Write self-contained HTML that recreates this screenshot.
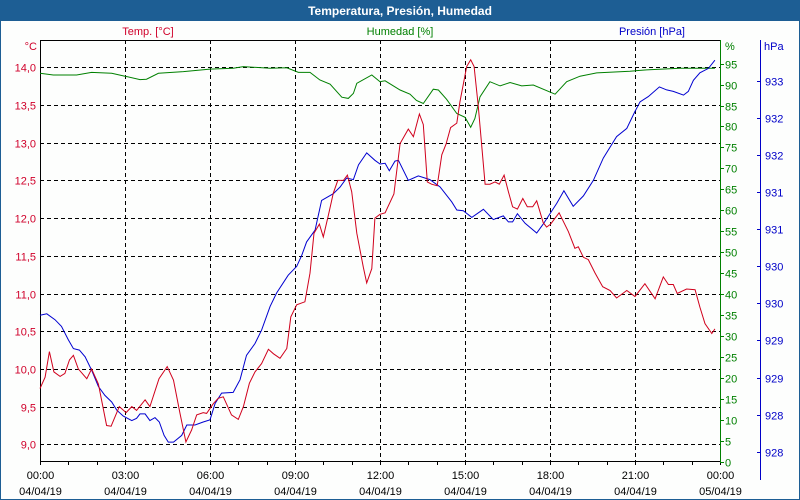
<!DOCTYPE html>
<html><head><meta charset="utf-8"><style>
html,body{margin:0;padding:0;background:#fff}
svg{display:block;font-family:"Liberation Sans",sans-serif}
</style></head><body>
<svg id="chart" width="800" height="500" viewBox="0 0 800 500" xmlns="http://www.w3.org/2000/svg">
<rect x="0" y="0" width="800" height="500" fill="#1d5e94"/>
<rect x="1" y="21" width="798" height="478" fill="#fdfefd"/>
<text x="400" y="15" text-anchor="middle" fill="#fff" font-size="12" font-weight="bold">Temperatura, Presión, Humedad</text>
<text x="148" y="35" text-anchor="middle" fill="#d0002a" font-size="11">Temp. [°C]</text>
<text x="400" y="35" text-anchor="middle" fill="#008000" font-size="11">Humedad [%]</text>
<text x="685" y="35" text-anchor="end" fill="#0000c8" font-size="11">Presión [hPa]</text>
<text x="37" y="50" text-anchor="end" fill="#d0002a" font-size="11">°C</text>
<text x="725" y="50" fill="#008000" font-size="11">%</text>
<text x="764" y="50" fill="#0000c8" font-size="11">hPa</text>
<g id="grid"></g>
<g id="axes"></g>
<g id="series"></g>
</svg>
<script>
const tempTimes=[0,.18,.33,.49,.71,.88,1.04,1.18,1.35,1.65,1.82,2.06,2.35,2.51,2.8,3.04,3.24,3.41,3.71,3.88,4.2,4.49,4.71,4.94,5.15,5.35,5.53,5.76,5.88,6.12,6.29,6.47,6.76,7,7.18,7.39,7.59,7.82,8.06,8.24,8.47,8.71,8.85,9.06,9.35,9.53,9.67,9.86,10,10.18,10.35,10.51,10.71,10.85,11,11.18,11.41,11.53,11.71,11.82,12,12.18,12.49,12.71,13,13.18,13.39,13.53,13.67,13.82,14.02,14.18,14.33,14.49,14.71,14.82,15.06,15.2,15.32,15.47,15.71,15.88,16.06,16.21,16.38,16.53,16.68,16.85,17.04,17.2,17.39,17.53,17.76,17.88,18.02,18.32,18.65,18.88,19,19.18,19.35,19.59,19.86,20.12,20.35,20.71,21,21.35,21.71,22,22.18,22.35,22.49,22.82,23.12,23.29,23.47,23.71,23.82];
const tempValues=[9.74,9.89,10.23,9.96,9.9,9.94,10.12,10.18,10,9.87,10,9.8,9.25,9.24,9.5,9.42,9.5,9.45,9.59,9.5,9.87,10.03,9.85,9.41,9.03,9.19,9.39,9.42,9.41,9.54,9.61,9.63,9.39,9.33,9.5,9.81,9.96,10.07,10.26,10.2,10.14,10.27,10.69,10.85,10.89,11.27,11.8,11.92,11.75,12.04,12.33,12.5,12.5,12.57,12.35,11.8,11.35,11.14,11.33,12,12.05,12.07,12.32,12.99,13.18,13.08,13.38,13.24,12.48,12.45,12.43,12.84,12.98,13.2,13.26,13.54,14.01,14.1,14.01,13.48,12.45,12.45,12.48,12.45,12.57,12.35,12.15,12.12,12.26,12.15,12.15,12.23,11.94,11.88,11.92,12.07,11.82,11.6,11.62,11.48,11.45,11.27,11.09,11.04,10.94,11.04,10.96,11.13,10.93,11.22,11.12,11.12,11,11.06,11.05,10.82,10.6,10.47,10.53];
const humTimes=[0,.47,1.29,1.82,2.53,3,3.53,3.76,4.18,5.06,6,6.82,7.18,8.12,8.71,9.12,9.53,9.88,10.24,10.65,10.88,11.06,11.18,11.71,12,12.18,12.71,13.06,13.29,13.53,13.88,14.06,14.35,14.71,15,15.2,15.35,15.53,15.88,16.24,16.59,17,17.41,18.18,18.59,19.06,19.65,20.82,21.41,22.59,23.82];
const humValues=[92.7,92.3,92.3,92.9,92.7,92,91.2,91.3,92.7,93.1,93.7,93.9,94.3,93.9,94,92.9,92.9,91.1,90.1,87,86.7,87.9,90.3,92.3,90.7,90.9,88.7,87.7,86.2,85.5,88.9,88.7,86.5,83.1,82.2,79.8,81.9,87.1,90.7,89.7,90.5,89.7,89.9,87.7,90.7,92,92.8,93.2,93.5,93.9,93.9];
const presTimes=[0,.24,.53,.76,1,1.18,1.39,1.59,1.82,2.06,2.29,2.53,2.71,2.94,3.24,3.41,3.53,3.71,3.88,4.06,4.21,4.38,4.53,4.71,5,5.18,5.47,5.76,6,6.18,6.41,6.82,7.06,7.29,7.59,7.82,8.12,8.35,8.76,9.06,9.24,9.41,9.71,9.94,10.35,10.59,10.82,11.06,11.24,11.53,11.82,12,12.18,12.33,12.53,12.65,13,13.35,13.76,14.12,14.53,14.71,14.94,15.24,15.65,16,16.35,16.53,16.68,16.85,17.12,17.53,17.76,18.24,18.49,18.82,19.18,19.53,19.88,20.35,20.71,21,21.18,21.47,21.86,22.12,22.35,22.71,22.88,23.06,23.29,23.59,23.82];
const presValues=[929.64,929.66,929.58,929.49,929.31,929.19,929.17,929.08,928.9,928.68,928.56,928.47,928.36,928.28,928.22,928.25,928.31,928.31,928.22,928.26,928.2,928.02,927.93,927.93,928.02,928.16,928.16,928.2,928.23,928.45,928.59,928.6,928.77,929.1,929.26,929.44,929.76,929.94,930.18,930.3,930.45,930.63,930.79,931.19,931.28,931.37,931.49,931.47,931.67,931.83,931.73,931.68,931.69,931.59,931.72,931.73,931.46,931.52,931.47,931.37,931.17,931.06,931.05,930.96,931.07,930.93,930.98,930.9,930.9,931.01,930.88,930.75,930.87,931.15,931.32,931.11,931.25,931.46,931.76,932.05,932.16,932.39,932.52,932.59,932.72,932.68,932.66,932.61,932.66,932.81,932.91,932.97,933.08];
const tempTicks=[9.0,9.5,10.0,10.5,11.0,11.5,12.0,12.5,13.0,13.5,14.0];
const humTicks=[0,5,10,15,20,25,30,35,40,45,50,55,60,65,70,75,80,85,90,95];
const presTicks=[927.8,928.3,928.8,929.3,929.8,930.3,930.8,931.3,931.8,932.3,932.8];
const timeTicks=[0,3,6,9,12,15,18,21,24];
const timeLabels=["00:00","03:00","06:00","09:00","12:00","15:00","18:00","21:00","00:00"];
const dateLabels=["04/04/19","04/04/19","04/04/19","04/04/19","04/04/19","04/04/19","04/04/19","04/04/19","05/04/19"];

const NS="http://www.w3.org/2000/svg";
const X0=40,X1=720,Y0=40,Y1=461;
const xS=t=>X0+t*(X1-X0)/24;
const yT=v=>67.3+(14-v)*75.4;
const yH=h=>461.7-h*4.19;
const yP=p=>81+(932.8-p)*74.14;
function mk(tag,attrs,parent,text){const e=document.createElementNS(NS,tag);for(const k in attrs)e.setAttribute(k,attrs[k]);if(text!==undefined)e.textContent=text;parent.appendChild(e);return e;}
const grid=document.getElementById('grid'),axes=document.getElementById('axes'),series=document.getElementById('series');
// horizontal grid + temp ticks
tempTicks.forEach(v=>{
  const y=Math.round(yT(v))+.5;
  const l=mk('line',{x1:X0,x2:X1,y1:y,y2:y,stroke:'#000','stroke-dasharray':'4,3','stroke-width':1},grid);
  
  
  const t=mk('text',{x:36,y:y+4,'text-anchor':'end',fill:'#d0002a','font-size':11},axes,v.toFixed(1).replace('.',','));
  
  
});
timeTicks.forEach((h,i)=>{
  const x=Math.round(xS(h))+.5;
  if(i>0&&i<timeTicks.length-1){
    const l=mk('line',{x1:x,x2:x,y1:Y0,y2:Y1,stroke:'#000','stroke-dasharray':'4,3'},grid);
    
    
  }
  const a=mk('text',{x:x,y:479,'text-anchor':'middle',fill:'#000','font-size':11},axes,timeLabels[i]);
  
  
  const b=mk('text',{x:x,y:495,'text-anchor':'middle',fill:'#000','font-size':11},axes,dateLabels[i]);
  
  
});
for(let h=0;h<=24;h++){const x=Math.round(xS(h))+.5;const l=mk('line',{x1:x,x2:x,y1:Y1,y2:Y1+4,stroke:'#000'},axes);}
// frame lines
let f=mk('line',{x1:X0+.5,x2:X0+.5,y1:Y0,y2:Y1,stroke:'#000'},axes);
f=mk('line',{x1:X0,x2:X1,y1:Y0+.5,y2:Y0+.5,stroke:'#000'},axes);
f=mk('line',{x1:X0,x2:X1,y1:Y1+.5,y2:Y1+.5,stroke:'#000'},axes);
f=mk('line',{x1:X1+.5,x2:X1+.5,y1:Y0,y2:Y1+1,stroke:'#008000'},axes);
f=mk('line',{x1:760.5,x2:760.5,y1:Y0,y2:480,stroke:'#0000c8'},axes);
humTicks.forEach(h=>{
  const y=Math.round(yH(h))+.5;
  const l=mk('line',{x1:X1,x2:X1+4,y1:y,y2:y,stroke:'#008000'},axes);
  
  
  const t=mk('text',{x:725,y:y+4,fill:'#008000','font-size':11},axes,String(h));
  
  
});
presTicks.forEach(p=>{
  const y=Math.round(yP(p))+.5;
  const l=mk('line',{x1:757,x2:761,y1:y,y2:y,stroke:'#0000c8'},axes);
  
  
  const t=mk('text',{x:765,y:y+4,fill:'#0000c8','font-size':11},axes,String(Math.round(p)));
  
  
});
function line(ts,vs,yf,color,name){
  const d=ts.map((t,i)=>(i?'L':'M')+xS(t).toFixed(1)+','+yf(vs[i]).toFixed(1)).join('');
  const p=mk('path',{d:d,fill:'none',stroke:color,'stroke-width':1},series);
  
  
}
line(humTimes,humValues,yH,'#008000','humidity-line');
line(presTimes,presValues,yP,'#0000d0','pressure-line');
line(tempTimes,tempValues,yT,'#d0001c','temperature-line');
</script>
</body></html>
